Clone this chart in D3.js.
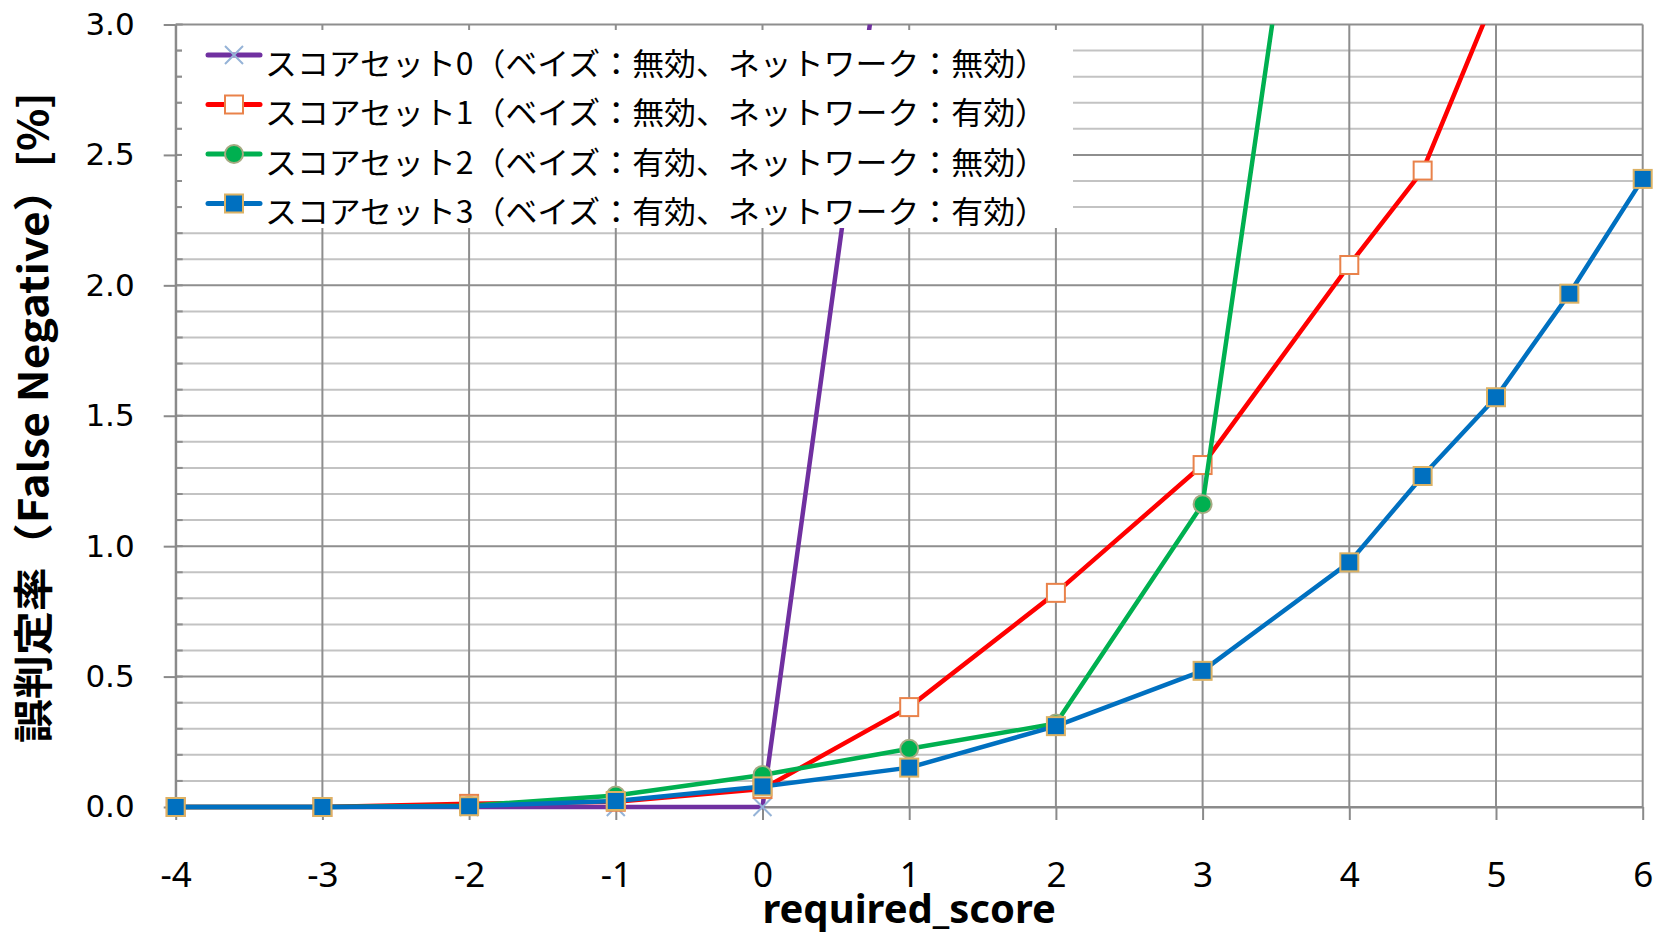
<!DOCTYPE html>
<html>
<head>
<meta charset="utf-8">
<script src="https://cdn.jsdelivr.net/npm/d3@7/dist/d3.min.js"></script>
<style>
html,body{margin:0;padding:0;background:#fff;}
svg{display:block;}
</style>
</head>
<body>
<svg id="chart" width="1669" height="936"></svg>
<script>
// ---- data ----
const seriesNames = [
  "スコアセット0（ベイズ：無効、ネットワーク：無効）",
  "スコアセット1（ベイズ：無効、ネットワーク：有効）",
  "スコアセット2（ベイズ：有効、ネットワーク：無効）",
  "スコアセット3（ベイズ：有効、ネットワーク：有効）"
];
const x0 = [-4, -3, -2, -1, 0, 1];
const y0 = [0, 0, 0, 0, 0, 4.1];
const x1 = [-4, -3, -2, -1, 0, 1, 2, 3, 4, 4.5, 5];
const y1 = [0, 0, 0.012, 0.02, 0.069, 0.383, 0.821, 1.311, 2.078, 2.44, 3.12];
const x2 = [-4, -3, -2, -1, 0, 1, 2, 3, 4];
const y2 = [0, 0, 0.005, 0.044, 0.123, 0.223, 0.32, 1.161, 5.04];
const x3 = [-4, -3, -2, -1, 0, 1, 2, 3, 4, 4.5, 5, 5.5, 6];
const y3 = [0, 0, 0.003, 0.023, 0.079, 0.151, 0.31, 0.522, 0.938, 1.269, 1.571, 1.968, 2.408];
const xTicks = [-4, -3, -2, -1, 0, 1, 2, 3, 4, 5, 6];
const yTicks = [0, 0.5, 1, 1.5, 2, 2.5, 3];
const yMinorTicks = d3.range(0, 31).map(i => i / 10);
const xTitle = "required_score";
const yTitle = "誤判定率（False Negative）[%]";

// ---- styles ----
const lineColors = ["#7030a0", "#ff0000", "#00b050", "#0070c0"];
const markerTypes = ["x", "openSquare", "circle", "square"];

const svg = d3.select("#chart");
const L = 175.7, R = 1642.7, T = 24.5, B = 807;
const x = d3.scaleLinear().domain([-4, 6]).range([L, R]);
const y = d3.scaleLinear().domain([0, 3]).range([B, T]);

// gridlines
const grid = svg.append("g");
grid.selectAll("line.hmin").data(yMinorTicks.filter(v => Math.round(v * 10) % 5 !== 0))
  .join("line").attr("x1", L).attr("x2", R).attr("y1", d => y(d)).attr("y2", d => y(d))
  .attr("stroke", "#c3c3c3").attr("stroke-width", 2);
grid.selectAll("line.hmaj").data(yTicks)
  .join("line").attr("x1", L).attr("x2", R).attr("y1", d => y(d)).attr("y2", d => y(d))
  .attr("stroke", "#8e8e8e").attr("stroke-width", 2);
grid.selectAll("line.v").data(xTicks)
  .join("line").attr("x1", d => x(d)).attr("x2", d => x(d)).attr("y1", T).attr("y2", B)
  .attr("stroke", "#8e8e8e").attr("stroke-width", 2);

// minor ticks inside on y axis
svg.append("g").selectAll("line").data(yMinorTicks)
  .join("line").attr("x1", L).attr("x2", L + 7).attr("y1", d => y(d)).attr("y2", d => y(d))
  .attr("stroke", "#8e8e8e").attr("stroke-width", 2);

// axes
const yAxis = svg.append("g").attr("transform", `translate(${L},0)`)
  .call(d3.axisLeft(y).tickValues(yTicks).tickFormat(d3.format(".1f")).tickSizeInner(12).tickSizeOuter(0).tickPadding(29));
yAxis.select(".domain").attr("stroke", "#8a8a8a").attr("stroke-width", 2);
yAxis.selectAll(".tick line").attr("stroke", "#8a8a8a").attr("stroke-width", 2);
yAxis.selectAll(".tick text").attr("font-family", "DejaVu Sans").attr("font-size", 31).attr("fill", "#000");

const xAxis = svg.append("g").attr("transform", `translate(0,${B})`)
  .call(d3.axisBottom(x).tickValues(xTicks).tickFormat(d3.format("d")).tickSizeInner(13).tickSizeOuter(0).tickPadding(42));
xAxis.select(".domain").attr("stroke", "#8a8a8a").attr("stroke-width", 2);
xAxis.selectAll(".tick line").attr("stroke", "#8a8a8a").attr("stroke-width", 2);
xAxis.selectAll(".tick text").attr("font-family", "Noto Sans").attr("font-size", 35).attr("fill", "#000")
  .text(d => d < 0 ? "-" + Math.abs(d) : d);

// clip
svg.append("defs").append("clipPath").attr("id", "plotClip")
  .append("rect").attr("x", L - 20).attr("y", T).attr("width", R - L + 40).attr("height", B - T + 20);

// markers
function drawMarker(g, type, cx, cy) {
  if (type === "x") {
    const s = 9;
    g.append("path").attr("d", `M${cx - s},${cy - s}L${cx + s},${cy + s}M${cx - s},${cy + s}L${cx + s},${cy - s}`)
      .attr("stroke", "#95b3d7").attr("stroke-width", 2).attr("fill", "none");
  } else if (type === "openSquare") {
    g.append("rect").attr("x", cx - 9).attr("y", cy - 9).attr("width", 18).attr("height", 18)
      .attr("fill", "#fff").attr("stroke", "#e9824a").attr("stroke-width", 2);
  } else if (type === "circle") {
    g.append("circle").attr("cx", cx).attr("cy", cy).attr("r", 9)
      .attr("fill", "#00b050").attr("stroke", "#a6aa82").attr("stroke-width", 2);
  } else {
    g.append("rect").attr("x", cx - 9).attr("y", cy - 9).attr("width", 18).attr("height", 18)
      .attr("fill", "#0070c0").attr("stroke", "#dcb264").attr("stroke-width", 2);
  }
}

const allX = [x0, x1, x2, x3];
const allY = [y0, y1, y2, y3];
const line = d3.line().x(d => x(d[0])).y(d => y(d[1]));
allX.forEach((xs, i) => {
  const pts = xs.map((v, j) => [v, allY[i][j]]);
  const g = svg.append("g");
  g.append("path").datum(pts).attr("d", line).attr("clip-path", "url(#plotClip)")
    .attr("fill", "none").attr("stroke", lineColors[i]).attr("stroke-width", 4.5)
    .attr("stroke-linejoin", "round").attr("stroke-linecap", "round");
  pts.filter(p => p[1] <= 3).forEach(p => drawMarker(g, markerTypes[i], x(p[0]), y(p[1])));
});

// legend
const leg = svg.append("g");
leg.append("rect").attr("x", 182).attr("y", 30).attr("width", 1073 - 182).attr("height", 228 - 30).attr("fill", "#fff");
const rowY = [55, 104.5, 154, 203.5];
seriesNames.forEach((name, i) => {
  const ry = rowY[i];
  leg.append("line").attr("x1", 208).attr("x2", 260).attr("y1", ry).attr("y2", ry)
    .attr("stroke", lineColors[i]).attr("stroke-width", 5).attr("stroke-linecap", "round");
  drawMarker(leg, markerTypes[i], 234, ry);
  leg.append("text").attr("x", 265).attr("y", ry + 6).attr("dominant-baseline", "central")
    .attr("font-family", "Noto Sans CJK JP").attr("font-size", 31).attr("fill", "#000")
    .attr("textLength", 782).attr("lengthAdjust", "spacingAndGlyphs")
    .text(name);
});

// titles
svg.append("text").attr("x", x(1)).attr("y", 923).attr("text-anchor", "middle")
  .attr("font-family", "Noto Sans").attr("font-weight", "bold").attr("font-size", 40).attr("fill", "#000")
  .text(xTitle);
svg.append("text").attr("transform", "translate(31,417.5) rotate(-90)").attr("text-anchor", "middle")
  .attr("dominant-baseline", "central")
  .attr("font-family", "Noto Sans CJK JP").attr("font-weight", "bold").attr("font-size", 40).attr("fill", "#000")
  .attr("textLength", 651).attr("lengthAdjust", "spacingAndGlyphs")
  .text(yTitle);
</script>
</body>
</html>
